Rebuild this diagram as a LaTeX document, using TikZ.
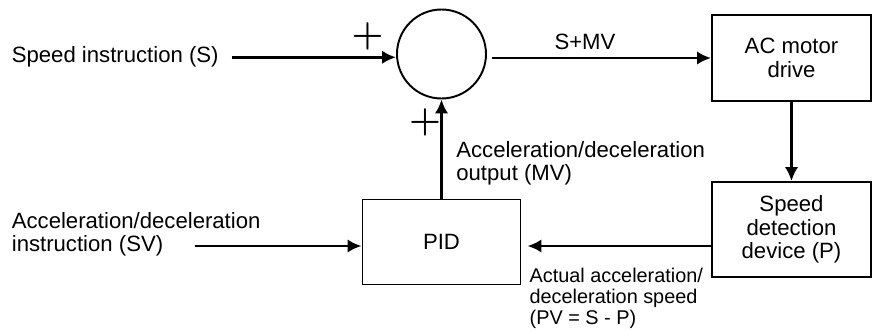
\documentclass[tikz,border=0pt]{standalone}
\usepackage{fontspec}
\setmainfont{Liberation Sans}
\usetikzlibrary{arrows.meta,calc}

\begin{document}
\begin{tikzpicture}[x=0.2mm, y=-0.2mm,
  block/.style={draw, line width=1.1pt, minimum width=31.8mm, align=center, inner sep=0pt, font=\fontsize{12.6}{13.3}\selectfont},
  lbl/.style={inner sep=0pt, align=left, font=\fontsize{12.6}{13.3}\selectfont},
  sign/.style={inner sep=0pt, font=\fontsize{19.6}{20}\selectfont\boldmath},
  flow/.style={line width=1.7pt, -{Latex[length=2.8mm, width=2.7mm]}}
]
  \useasboundingbox (0,0) rectangle (881,331);

  % blocks
  \node[draw, circle, line width=1.1pt, minimum size=17.8mm, inner sep=0pt] (sum) at (441.5,54) {};
  \node[block, minimum height=17.2mm] (drive) at (791.5,58) {AC motor\\drive};
  \node[block, minimum height=19mm] (detect) at (791.5,229.5) {Speed\\detection\\device (P)};
  \node[block, minimum width=31.6mm, minimum height=17mm] (pid) at (441.5,242) {PID};

  % labels
  \node[lbl, anchor=base west] (sin) at (11.5,63) {Speed instruction (S)};
  \node[lbl, anchor=west] (svlbl) at (11.5,234.5) {Acceleration/deceleration\\instruction (SV)};
  \node[lbl, anchor=west] (mvlbl) at (456,163) {Acceleration/deceleration\\output (MV)};
  \node[lbl, anchor=west, font=\fontsize{11.3}{12.2}\selectfont] (pvlbl) at (529.3,298.4) {Actual acceleration/\\deceleration speed\\(PV = S - P)};
  \node[lbl, anchor=base] (smv) at (585,50) {S+MV};
  \node[sign] (plusa) at (367.5,36.5) {$+$};
  \node[sign] (plusb) at (425,122) {$+$};

  \coordinate (svstart) at (195,246);

  % signal flow
  \draw[flow, shorten <=2.6mm] (sin.east) -- (sin.east -| sum.west);
  \draw[flow, shorten <=1mm] (sum.east |- drive.west) -- (drive.west);
  \draw[flow] (drive) -- (detect);
  \draw[flow, shorten >=1.2mm] (detect.west |- svstart) -- (pid.east |- svstart);
  \draw[flow] (svstart) -- (svstart -| pid.west);
  \draw[flow] (pid) -- (sum);
\end{tikzpicture}
\end{document}
